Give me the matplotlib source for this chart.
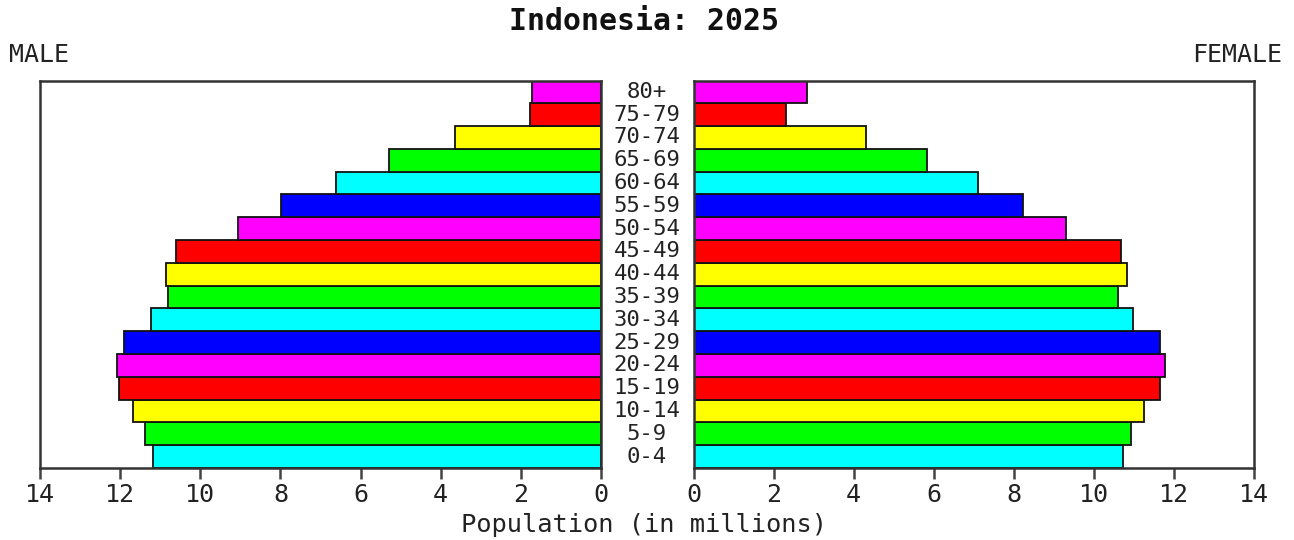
import numpy as np
import matplotlib
matplotlib.use('Agg')
import matplotlib.pyplot as plt
from matplotlib.transforms import blended_transform_factory

# age groups from youngest to oldest
ages = ['0-4', '5-9', '10-14', '15-19', '20-24', '25-29', '30-34', '35-39',
        '40-44', '45-49', '50-54', '55-59', '60-64', '65-69', '70-74',
        '75-79', '80+']
# population in millions
male = [11.18, 11.37, 11.69, 12.02, 12.09, 11.9, 11.24, 10.8,
        10.86, 10.6, 9.07, 7.99, 6.62, 5.28, 3.64, 1.78, 1.71]
female = [10.74, 10.94, 11.25, 11.65, 11.78, 11.65, 10.99, 10.61,
          10.82, 10.68, 9.3, 8.22, 7.11, 5.82, 4.31, 2.31, 2.83]
cycle = ['#00ffff', '#00ff00', '#ffff00', '#ff0000', '#ff00ff', '#0000ff']
ticks = [0, 2, 4, 6, 8, 10, 12, 14]

W, H = 1294, 540
fig = plt.figure(figsize=(W/100, H/100), dpi=100)
fnt = 'DejaVu Sans Mono'

def box(x0, x1, y0=80.5, y1=468):
    return [x0/W, 1-y1/H, (x1-x0)/W, (y1-y0)/H]

axL = fig.add_axes(box(40, 601))
axR = fig.add_axes(box(693.5, 1254))

y = np.arange(len(ages))
colors = [cycle[i % 6] for i in range(len(ages))]

for ax, vals in ((axL, male), (axR, female)):
    ax.barh(y, vals, height=1.0, color=colors, edgecolor='#111111', linewidth=1.3)
    ax.set_ylim(-0.5, len(ages)-0.5)
    ax.set_yticks([])
    ax.set_xticks(ticks)
    ax.set_xticklabels([str(t) for t in ticks], fontsize=18, family=fnt, color='#222222')
    ax.tick_params(axis='x', length=8, width=1.8, color='#444444', pad=3)
    for s in ax.spines.values():
        s.set_linewidth(1.8)
        s.set_color('#333333')

axL.set_xlim(14, 0)
axR.set_xlim(0, 14)

tr = blended_transform_factory(fig.transFigure, axL.transData)
for i, a in enumerate(ages):
    fig.text(647/W, i, a, transform=tr, ha='center', va='center',
             fontsize=16, family=fnt, color='#222222')

fig.text(644/W, 1-22/H, 'Indonesia: 2025', ha='center', va='center',
         fontsize=21.5, family=fnt, fontweight='bold', color='#111111')
fig.text(9/W, 1-55/H, 'MALE', ha='left', va='center', fontsize=18, family=fnt, color='#222222')
fig.text(1282/W, 1-55/H, 'FEMALE', ha='right', va='center', fontsize=18, family=fnt, color='#222222')
fig.text(644/W, 1-525/H, 'Population (in millions)', ha='center', va='center',
         fontsize=18.3, family=fnt, color='#222222')

fig.savefig('out.png', dpi=100)
